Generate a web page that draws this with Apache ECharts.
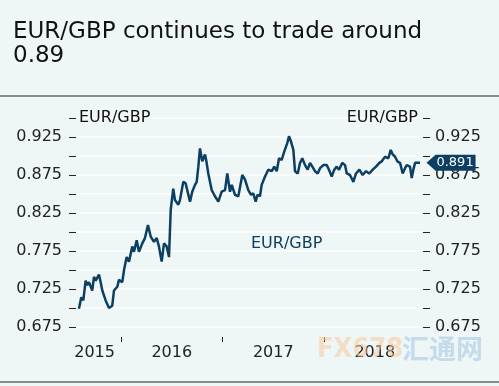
<!DOCTYPE html>
<html><head><meta charset="utf-8">
<script src="https://cdn.jsdelivr.net/npm/echarts@6/dist/echarts.min.js"></script>
<style>html,body{margin:0;padding:0;background:#eff6f6;}#c{width:499px;height:386px;}</style>
</head><body><div id="c"></div>
<script>
// decimal years (time) and EUR/GBP values
var years = [2015.586,2015.609,2015.629,2015.652,2015.668,2015.685,2015.717,2015.734,2015.751,2015.783,
2015.800,2015.816,2015.849,2015.882,2015.914,2015.931,2015.964,2015.980,2016.013,2016.030,
2016.056,2016.079,2016.111,2016.128,2016.155,2016.177,2016.210,2016.236,2016.266,2016.293,
2016.325,2016.352,2016.374,2016.401,2016.424,2016.450,2016.473,2016.490,2016.515,2016.532,
2016.565,2016.581,2016.614,2016.637,2016.680,2016.702,2016.729,2016.746,2016.762,2016.778,
2016.801,2016.828,2016.844,2016.860,2016.894,2016.926,2016.959,2016.992,2017.025,2017.047,
2017.074,2017.091,2017.123,2017.156,2017.195,2017.222,2017.254,2017.281,2017.303,2017.327,
2017.345,2017.369,2017.386,2017.419,2017.451,2017.485,2017.510,2017.534,2017.557,2017.583,
2017.609,2017.638,2017.655,2017.675,2017.698,2017.714,2017.741,2017.764,2017.786,2017.813,
2017.839,2017.862,2017.885,2017.911,2017.938,2017.961,2017.993,2018.027,2018.049,2018.076,
2018.101,2018.125,2018.148,2018.180,2018.207,2018.224,2018.256,2018.289,2018.315,2018.348,
2018.381,2018.414,2018.446,2018.480,2018.512,2018.545,2018.569,2018.601,2018.634,2018.657,
2018.677,2018.700,2018.722,2018.749,2018.775,2018.798,2018.815,2018.847,2018.864,2018.880,
2018.897,2018.919,2018.946];
var eurgbp = [0.699,0.714,0.710,0.736,0.730,0.734,0.723,0.741,0.736,0.744,
0.734,0.723,0.710,0.700,0.703,0.723,0.728,0.737,0.734,0.750,
0.767,0.761,0.781,0.774,0.789,0.774,0.785,0.792,0.809,0.794,
0.787,0.792,0.781,0.761,0.785,0.781,0.767,0.829,0.857,0.842,
0.836,0.842,0.866,0.864,0.840,0.853,0.862,0.866,0.886,0.910,
0.893,0.902,0.891,0.877,0.855,0.847,0.840,0.853,0.855,0.877,
0.853,0.862,0.849,0.847,0.875,0.869,0.855,0.849,0.851,0.840,
0.849,0.847,0.862,0.873,0.882,0.880,0.886,0.880,0.897,0.895,
0.906,0.917,0.926,0.919,0.908,0.880,0.877,0.891,0.897,0.888,
0.882,0.891,0.886,0.880,0.877,0.884,0.888,0.888,0.882,0.873,
0.882,0.886,0.882,0.891,0.888,0.877,0.875,0.866,0.877,0.882,
0.875,0.880,0.877,0.882,0.886,0.891,0.893,0.899,0.897,0.908,
0.902,0.899,0.893,0.891,0.877,0.884,0.888,0.886,0.871,0.882,
0.891,0.891,0.891];
var yearTicks = [2016, 2017, 2018];
var yearLabelPos = [2015.74, 2016.5, 2017.5, 2018.5];
var yMin = 0.675, yMax = 0.95, yStep = 0.025;
var seriesName = 'EUR/GBP';
var titleText = 'EUR/GBP continues to trade around\n0.89';

var navy = '#0c3f62';
var font = 'DejaVu Sans';
var data = years.map(function (t, i) { return [t, eurgbp[i]]; });
var last = data[data.length - 1];

function yLabelFmt(v) {
  var k = Math.round((v - yMin) / yStep);
  return (k % 2 === 0) ? v.toFixed(3) : '';
}
function yAxisCfg(pos) {
  return {
    type: 'value', position: pos, min: yMin, max: yMax, interval: yStep,
    name: seriesName, nameLocation: 'end', nameGap: 0,
    nameTextStyle: { color: '#111', fontFamily: font, fontSize: 16, align: pos === 'left' ? 'left' : 'right',
      verticalAlign: 'middle', padding: pos === 'left' ? [0, 0, 0, 3] : [0, 5, 0, 0] },
    axisLine: { show: false },
    axisTick: { show: true, length: 7, lineStyle: { color: '#222', width: 1 } },
    axisLabel: { show: true, color: '#222', fontFamily: font, fontSize: 16, margin: pos === 'left' ? 14 : 12,
      formatter: yLabelFmt, showMaxLabel: true, showMinLabel: true },
    splitLine: { show: pos === 'left', lineStyle: { color: '#ffffff', width: 1.5 } }
  };
}

var chart = echarts.init(document.getElementById('c'), null, { renderer: 'canvas' });
chart.setOption({
  backgroundColor: '#eff6f6',
  animation: false,
  title: [
    { text: titleText, left: 8, top: 15,
      textStyle: { color: '#111', fontFamily: font, fontSize: 23, fontWeight: 'normal', lineHeight: 24 } },
    { text: seriesName, left: 246, top: 231,
      textStyle: { color: navy, fontFamily: font, fontSize: 16, fontWeight: 'normal' } }
  ],
  grid: { left: 76, right: 76, top: 118, bottom: 59, containLabel: false, outerBoundsMode: 'none' },
  xAxis: {
    type: 'value', min: 2015.557, max: 2018.975, offset: 10,
    axisLine: { show: false },
    axisTick: { show: true, length: 5, customValues: yearTicks, lineStyle: { color: '#222' } },
    axisLabel: { show: true, customValues: yearLabelPos, color: '#222', fontFamily: font, fontSize: 16, margin: 8,
      formatter: function (v) { return String(Math.floor(v)); } },
    splitLine: { show: false }
  },
  yAxis: [yAxisCfg('left'), yAxisCfg('right')],
  graphic: [
    { type: 'rect', shape: { x: 0, y: 95, width: 499, height: 2 }, style: { fill: '#8a8a8a' } },
    { type: 'rect', shape: { x: 0, y: 381, width: 499, height: 2 }, style: { fill: '#8a8a8a' } },
    { type: 'text', left: 317, top: 336, z: 100,
      style: { text: 'FX678', fill: '#f5c89a', opacity: 0.55, font: 'bold 27px "DejaVu Sans Condensed"' } },
    { type: 'text', left: 402, top: 335, z: 100,
      style: { text: '汇通网', fill: '#a8c8e6', opacity: 0.6, font: 'bold 27px "Noto Sans CJK SC"' } }
  ],
  series: [{
    name: seriesName, type: 'line', data: data, yAxisIndex: 0, showSymbol: false, symbol: 'none',
    lineStyle: { color: navy, width: 2.5 }, z: 3,
    markPoint: {
      symbol: 'path://M0,8 L9,0 L49,0 L49,16 L9,16 Z', symbolSize: [49, 16], symbolKeepAspect: false,
      symbolOffset: [31, 0], itemStyle: { color: navy },
      label: { show: true, position: 'inside', offset: [4, 0], color: '#fff', fontFamily: font, fontSize: 13,
        formatter: function (p) { return Number(p.value).toFixed(3); } },
      data: [{ coord: last, value: last[1] }]
    }
  }]
});
</script></body></html>
